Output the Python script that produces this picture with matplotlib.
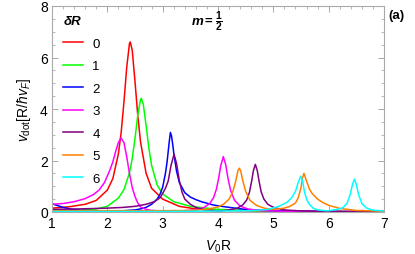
"""Dot velocity versus V0R for several deltaR values (m = 1/2)."""

import matplotlib
matplotlib.use("Agg")
import matplotlib.pyplot as plt
from matplotlib.ticker import MultipleLocator

plt.rcParams["font.family"] = ["Liberation Sans", "DejaVu Sans"]
plt.rcParams["mathtext.fontset"] = "custom"
plt.rcParams["mathtext.rm"] = "Liberation Sans"
plt.rcParams["mathtext.it"] = "Liberation Sans:italic"
plt.rcParams["mathtext.bf"] = "Liberation Sans:bold"

# values, one (x, y) list pair per delta R
x0 = [1.0, 1.3, 1.6, 1.8, 2.0, 2.1, 2.2, 2.25, 2.3, 2.35, 2.4, 2.415, 2.45,
      2.5, 2.55, 2.6, 2.7, 2.8, 3.0, 3.3, 3.6, 4.0, 5.0, 6.0, 7.0]
y0 = [0.15, 0.2, 0.3, 0.45, 0.85, 1.3, 2.26, 3.09, 4.26, 5.61, 6.54, 6.6, 6.28,
      5.07, 3.75, 2.72, 1.51, 0.92, 0.5, 0.22, 0.12, 0.07, 0.03, 0.02, 0.01]

x1 = [1.0, 1.5, 1.8, 2.0, 2.2, 2.3, 2.4, 2.45, 2.5, 2.55, 2.6, 2.614, 2.65,
      2.7, 2.75, 2.8, 2.9, 3.0, 3.2, 3.5, 4.0, 5.0, 7.0]
y1 = [0.03, 0.06, 0.12, 0.22, 0.54, 0.865, 1.52, 2.08, 2.86, 3.77, 4.37, 4.41, 4.18,
      3.37, 2.49, 1.81, 1.05, 0.7, 0.4, 0.22, 0.1, 0.03, 0.01]

x2 = [1.0, 1.1, 1.2, 1.35, 1.5, 1.8, 2.0, 2.3, 2.5, 2.6, 2.7, 2.8, 2.9, 2.95,
      3.0, 3.05, 3.08, 3.1, 3.12, 3.14, 3.16, 3.18, 3.2, 3.25, 3.3, 3.4, 3.5,
      3.6, 3.7, 3.8, 3.9, 4.0, 4.2, 4.5, 5.0, 6.0, 7.0]
y2 = [0.32, 0.25, 0.18, 0.11, 0.07, 0.04, 0.04, 0.05, 0.08, 0.12, 0.18, 0.3, 0.5, 0.68,
      0.96, 1.5, 1.95, 2.35, 2.75, 3.09, 2.95, 2.65, 2.3, 1.6, 1.15, 0.75, 0.58,
      0.48, 0.4, 0.34, 0.28, 0.24, 0.18, 0.1, 0.05, 0.02, 0.01]

x3 = [1.0, 1.2, 1.4, 1.6, 1.75, 1.85, 1.95, 2.05, 2.1, 2.15, 2.2, 2.247, 2.3,
      2.35, 2.4, 2.45, 2.5, 2.55, 2.6, 2.7, 2.8, 3.0, 3.3, 3.6, 3.75, 3.85,
      3.92, 3.97, 4.01, 4.05, 4.096, 4.14, 4.18, 4.23, 4.3, 4.4, 4.55, 4.8,
      5.2, 6.0, 7.0]
y3 = [0.3, 0.33, 0.4, 0.52, 0.68, 0.85, 1.15, 1.65, 1.95, 2.35, 2.7, 2.87, 2.7,
      2.15, 1.5, 0.95, 0.6, 0.35, 0.2, 0.1, 0.06, 0.04, 0.03, 0.09, 0.18, 0.33,
      0.56, 0.88, 1.29, 1.8, 2.15, 1.83, 1.31, 0.82, 0.45, 0.23, 0.11, 0.05,
      0.03, 0.02, 0.01]

x4 = [1.0, 1.5, 2.0, 2.3, 2.5, 2.7, 2.85, 2.95, 3.0, 3.05, 3.1, 3.15, 3.205,
      3.25, 3.3, 3.35, 3.4, 3.5, 3.6, 3.75, 3.9, 4.05, 4.2, 4.35, 4.45, 4.52,
      4.57, 4.61, 4.64, 4.675, 4.71, 4.74, 4.78, 4.83, 4.9, 5.0, 5.2, 5.5,
      6.0, 7.0]
y4 = [0.1, 0.12, 0.15, 0.18, 0.22, 0.3, 0.4, 0.55, 0.72, 0.92, 1.2, 1.8, 2.24,
      1.89, 1.23, 0.77, 0.5, 0.3, 0.18, 0.08, 0.05, 0.04, 0.08, 0.15, 0.28, 0.47,
      0.78, 1.22, 1.61, 1.85, 1.61, 1.22, 0.78, 0.5, 0.3, 0.18, 0.08, 0.04,
      0.02, 0.01]

x5 = [1.0, 2.0, 3.0, 3.5, 3.8, 4.0, 4.1, 4.2, 4.27, 4.32, 4.36, 4.385, 4.41,
      4.45, 4.5, 4.58, 4.7, 4.85, 5.0, 5.2, 5.3, 5.4, 5.45, 5.5, 5.53, 5.554,
      5.6, 5.65, 5.7, 5.8, 5.9, 6.0, 6.2, 6.5, 7.0]
y5 = [0.05, 0.05, 0.05, 0.06, 0.1, 0.2, 0.3, 0.5, 0.8, 1.2, 1.6, 1.7, 1.6,
      1.2, 0.8, 0.45, 0.25, 0.14, 0.1, 0.15, 0.22, 0.35, 0.55, 0.95, 1.35, 1.5,
      1.2, 0.9, 0.72, 0.5, 0.36, 0.26, 0.14, 0.06, 0.03]

x6 = [1.0, 3.0, 4.6, 4.9, 5.1, 5.25, 5.33, 5.4, 5.45, 5.495, 5.53, 5.56, 5.6,
      5.65, 5.72, 5.8, 5.95, 6.0, 6.15, 6.25, 6.33, 6.39, 6.43, 6.465, 6.5,
      6.54, 6.6, 6.68, 6.8, 7.0]
y6 = [0.02, 0.02, 0.05, 0.1, 0.22, 0.38, 0.55, 0.8, 1.15, 1.39, 1.2, 0.8, 0.5,
      0.3, 0.15, 0.08, 0.05, 0.05, 0.1, 0.16, 0.33, 0.68, 1.07, 1.28, 1.07,
      0.68, 0.33, 0.16, 0.07, 0.04]

labels = ["0", "1", "2", "3", "4", "5", "6"]
colors = ["#ff0000", "#00ff00", "#0000ff", "#ff00ff", "#800080", "#ff8000", "#00ffff"]
series = [(x0, y0), (x1, y1), (x2, y2), (x3, y3), (x4, y4), (x5, y5), (x6, y6)]

fig = plt.figure(figsize=(4.15, 2.55), dpi=100)
ax = fig.add_axes([52 / 415, 42 / 255, 332 / 415, 206 / 255])

for (xs, ys), lab, col in zip(series, labels, colors):
    ax.plot(xs, ys, color=col, lw=1.1, label=lab)

ax.set_xlim(1, 7)
ax.set_ylim(0, 8)
ax.xaxis.set_major_locator(MultipleLocator(1))
ax.xaxis.set_minor_locator(MultipleLocator(0.2))
ax.yaxis.set_major_locator(MultipleLocator(2))
ax.yaxis.set_minor_locator(MultipleLocator(0.5))
ax.tick_params(which="both", direction="in", top=True, right=True,
               color="#999999", labelsize=10, pad=3)
ax.tick_params(which="major", length=4, width=0.6)
ax.tick_params(which="minor", length=2, width=0.5)
for sp in ax.spines.values():
    sp.set_color("#aaaaaa")
    sp.set_linewidth(0.8)

ax.set_xlabel(r"$V_0$R", fontsize=10, labelpad=5)
ax.set_ylabel(r"$v_{\mathrm{dot}}[\mathrm{R}/\hbar v_F]$", fontsize=10, labelpad=5)

leg = ax.legend(title="δR", loc="upper left", bbox_to_anchor=(0.006, 1.0),
                frameon=False, fontsize=9.5, handlelength=1.5, handletextpad=0.7,
                labelspacing=0.78, borderaxespad=0.3, title_fontsize=9.5)
leg.get_title().set_fontweight("bold")
leg.get_title().set_fontstyle("italic")
leg._legend_box.align = "left"

# "m = 1/2" label, pieced together at the top of the frame
fig.text(192 / 415, 1 - 22 / 255, "m", fontsize=9.5, fontweight="bold",
         fontstyle="italic", va="center")
fig.text(204 / 415, 1 - 22 / 255, "=", fontsize=9.5, fontweight="bold", va="center")
fig.text(215 / 415, 1 - 22 / 255, r"$\mathbf{\frac{1}{2}}$", fontsize=10.5, va="center")
fig.text(388 / 415, 1 - 16 / 255, "(a)", fontsize=9.5, fontweight="bold", va="center")

fig.savefig("out.png", dpi=100)
